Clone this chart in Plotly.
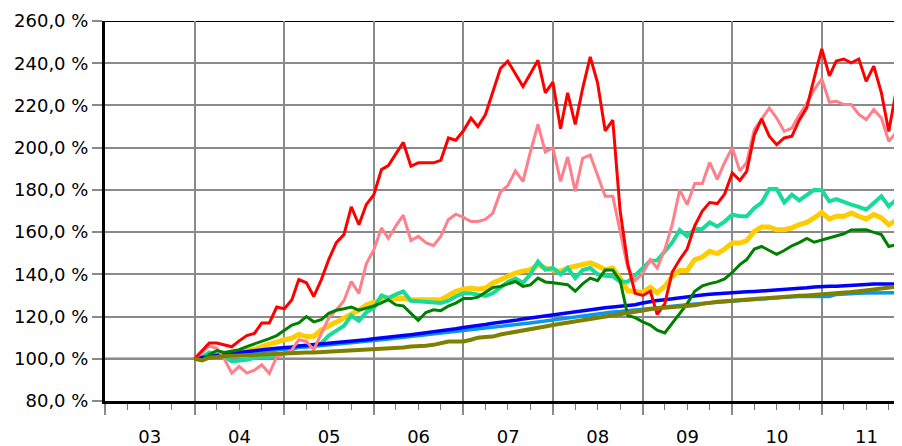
import plotly.graph_objects as go
import pandas as pd

# Monthly index values (%), Jan 2004 .. Dec 2011
months = pd.date_range("2004-01-01", periods=96, freq="MS")

red = [100, 104, 107.5, 107.5, 106.5, 105.7, 108.5, 111, 112, 117, 117, 124.5,
       123.7, 128, 137.5, 136, 129.5, 137.5, 147, 155, 158.8, 172, 163.5, 173,
       177.7, 189.6, 191.5, 197, 202.5, 191.2, 192.8, 192.8, 192.8, 194, 204.6, 203.5,
       208, 214, 210, 215.7, 227, 237.5, 241, 235, 229, 235, 241.4, 226,
       231, 209, 226, 211, 228, 243, 230.7, 208, 213, 170, 145, 131,
       130, 132, 121, 126, 141, 147, 152, 163, 170, 174, 173.5, 178,
       188, 184.5, 188.8, 206, 213.6, 205.4, 201.4, 204.6, 205.4, 213, 219, 233,
       246.8, 234, 241, 242, 240.2, 242, 231.4, 238.6, 226, 207.7, 227.5, 218]

pink = [100, 103, 106, 105, 100, 93.2, 96.4, 93.2, 94.6, 97.2, 93, 101,
        102, 104.3, 109, 108.2, 104.3, 112, 119.3, 123, 127.5, 136.6, 131, 145,
        151.7, 162, 157, 163, 168, 156, 158, 155, 153.6, 158, 166, 168.5,
        167, 165, 165, 166, 169, 179, 182, 189, 184, 198, 211, 198,
        200, 184, 195.6, 179.3, 195, 196.5, 186.4, 177, 177, 161, 143, 137,
        140.5, 147, 143, 151.7, 163.5, 180, 173, 183, 183, 193, 185, 193,
        200, 189, 193, 208.5, 213.3, 218.8, 214, 207.7, 209.3, 215.5, 221, 227.5,
        232.6, 221.5, 222, 220.4, 220.4, 215.7, 213.3, 218, 214, 203, 207.3, 211]

turquoise = [100, 101, 103, 102, 101, 98.7, 99, 99.5, 100.5, 101, 101, 101.5,
             102.5, 104.5, 105.8, 105.8, 106.5, 107.4, 111, 113.5, 115.6, 120.5, 118, 122,
             124, 130, 128.8, 130.5, 131.9, 127.5, 127.3, 127, 126.8, 126.4, 127.5, 129.5,
             131, 131, 130.3, 129.8, 131, 133.5, 136.4, 138, 136, 140, 146, 142.2,
             143, 140, 143, 138.2, 142, 143, 140, 139.3, 139, 136.5, 136.5, 139.5,
             143.3, 146.5, 146.6, 151, 155, 161, 158, 161.5, 161.5, 164.6, 162.7, 165,
             168.3, 167.5, 167.5, 171.4, 174, 180.4, 180.4, 174, 177.7, 175, 177.7, 180,
             179.8, 174.6, 175.6, 174.1, 173, 172, 170.6, 173.8, 177, 172.2, 175.4, 177]

yellow = [100, 100.5, 101.5, 102, 102, 102.5, 103, 103.5, 104.5, 105.8, 107, 108.2,
          109, 109.8, 111.5, 110.5, 110.6, 113.7, 115.5, 117.5, 119.3, 121.5, 123, 125.5,
          127, 128, 128.5, 128.8, 128.5, 128, 128, 128, 128, 128, 130, 131.9,
          133, 133.5, 133, 133.5, 135.9, 137.5, 139.5, 140.6, 141.5, 142.2, 144.6, 143,
          142, 141.4, 143, 144, 144.6, 145.4, 144, 142.2, 143, 138.2, 132.2, 131.9,
          131.5, 133.8, 131.3, 134.3, 139, 141.8, 141.8, 147, 148.2, 150.9, 149.8, 152,
          154.8, 154.8, 156, 160.3, 162.4, 162.4, 161.1, 161.1, 162, 163.5, 164.6, 166.7,
          169.3, 166.2, 167.5, 167.5, 169.1, 167.5, 166.2, 168.3, 166.7, 163.5, 165.6, 164.3]

green = [100, 99.2, 102, 103.9, 103, 103.5, 104.3, 105.8, 107, 108, 109.5, 111,
         113.5, 116, 117, 120, 117.5, 118.5, 121.5, 123, 123.7, 124.5, 123, 124,
         125, 126.5, 128, 125.5, 125, 121.5, 118.2, 121.9, 123.2, 122.8, 125, 126.4,
         128.5, 128.5, 129.2, 131.5, 133.8, 134.3, 135.5, 136.6, 134.3, 135, 138.2, 136.4,
         136, 135.6, 135.1, 132, 135.5, 138.2, 137, 142, 142, 137, 120.5, 119.5,
         117.5, 116, 113.5, 112.2, 116.9, 121.5, 126, 132, 134.5, 135.6, 136.4, 137.8,
         140.9, 144.6, 147, 152, 153.2, 151.3, 149.5, 151.3, 153.5, 155, 157, 155.2,
         156.3, 157.2, 158.3, 159.2, 161, 161.1, 161.1, 159.9, 158.8, 153.2, 154, 150]

blue = [100, 100.6, 101.2, 101.6, 102, 102.6, 103, 103.5, 103.8, 104.2, 104.6, 105,
        105.2, 105.6, 106, 106.3, 106.6, 107, 107.4, 107.8, 108.1, 108.4, 108.6, 109,
        109.5, 109.8, 110.2, 110.6, 111, 111.4, 111.8, 112.2, 112.8, 113.2, 113.6, 114.2,
        114.8, 115.2, 115.6, 116.2, 116.8, 117.2, 117.6, 118.2, 118.8, 119.3, 119.8, 120.3,
        120.8, 121.3, 121.7, 122.3, 122.8, 123.4, 124, 124.2, 124.5, 124.8, 125.3, 125.6,
        126.4, 127.2, 127.6, 128, 128.5, 129, 129.5, 129.8, 130.2, 130.6, 130.9, 131.1,
        131.3, 131.5, 131.7, 131.9, 132.1, 132.3, 132.5, 132.8, 133, 133.3, 133.6, 134,
        134.3, 134.4, 134.4, 134.5, 134.6, 134.8, 135.2, 135.4, 135.4, 135.4, 135.5, 135.5]

lightblue = [100, 100.4, 100.9, 101.3, 101.7, 102.1, 102.5, 102.9, 103.2, 103.6, 104, 104.3,
             104.6, 105, 105.3, 105.6, 105.9, 106.3, 106.7, 107, 107.3, 107.6, 107.9, 108.3,
             108.7, 109, 109.4, 109.8, 110.1, 110.4, 110.8, 111.1, 111.5, 111.9, 112.3, 112.7,
             113.1, 113.5, 113.9, 114.3, 114.8, 115.2, 115.6, 116.1, 116.6, 117, 117.5, 118,
             118.5, 119, 119.5, 120, 120.5, 121, 121.5, 121.9, 122.2, 122.4, 122.8, 123.2,
             123.6, 124, 124.2, 124.5, 124.8, 125.2, 125.6, 125.9, 126.2, 126.5, 126.8, 127.1,
             127.3, 127.6, 127.9, 128.2, 128.5, 128.8, 129, 129.2, 129.4, 129.5, 129.5, 129.5,
             129.5, 129.5, 130.5, 130.8, 130.9, 131, 131.1, 131.2, 131.3, 131.3, 131.4, 131.4]

olive = [100, 99.2, 100.5, 101, 101.2, 101.4, 101.4, 101.5, 101.8, 102, 102.2, 102.3,
         102.5, 103, 103, 103, 103, 103.2, 103.3, 103.5, 103.5, 103.6, 103.8, 104,
         104.3, 104.5, 105, 105, 105.3, 105.8, 105.8, 106.2, 106.6, 107.5, 108.2, 108.2,
         108.2, 109, 110, 110.3, 110.5, 111.5, 112.2, 112.8, 113.4, 114, 114.7, 115.3,
         116, 116.6, 117.2, 117.8, 118.4, 119, 119.6, 120.4, 121, 121.4, 121.8, 122.3,
         122.8, 123.6, 124, 124.2, 124.4, 124.6, 124.8, 125.4, 126, 126.6, 127, 127.3,
         127.6, 127.9, 128.1, 128.3, 128.5, 128.8, 129.1, 129.4, 129.6, 129.8, 130, 130.2,
         130.4, 130.7, 131, 131.3, 131.6, 132, 132.4, 132.7, 133, 133.3, 133.8, 134.5]

y_ticks = [80, 100, 120, 140, 160, 180, 200, 220, 240, 260]
y_labels = ["80,0 %", "100,0 %", "120,0 %", "140,0 %", "160,0 %", "180,0 %",
            "200,0 %", "220,0 %", "240,0 %", "260,0 %"]

series = [
    ("yellow", yellow, "#FFCC00", 5),
    ("turquoise", turquoise, "#19DB97", 4),
    ("lightblue", lightblue, "#0A97E8", 3.5),
    ("blue", blue, "#0000FF", 3.5),
    ("pink", pink, "#FF7F8A", 3),
    ("green", green, "#008000", 3),
    ("red", red, "#FF0000", 3),
    ("olive", olive, "#808000", 4),
]

fig = go.Figure()
for name, vals, col, w in series:
    fig.add_trace(go.Scatter(x=months, y=vals, mode="lines", name=name,
                             line=dict(color=col, width=w), showlegend=False))

fig.add_hline(y=100, line=dict(color="black", width=2), layer="below")
fig.add_hline(y=260, line=dict(color="black", width=2), layer="below")

font = dict(family="DejaVu Sans, Liberation Sans, sans-serif", size=18, color="black")

# The page body has an 8 px margin, so the figure is 8 px smaller than the window
fig.update_layout(
    width=894, height=438,
    margin=dict(l=97, r=0, t=13, b=45),
    paper_bgcolor="white", plot_bgcolor="white",
    font=font,
    xaxis=dict(
        type="date", automargin=False,
        range=["2003-01-01", "2011-11-24"],
        dtick="M12", tick0="2003-01-01",
        tickformat="%y", ticklabelmode="period",
        showgrid=True, gridcolor="#8a8a8a", gridwidth=1.5,
        ticks="outside", ticklen=11, tickcolor="#8a8a8a", tickwidth=1.5,
        ticklabelstandoff=6,
        showline=True, linecolor="black", linewidth=3,
        minor=dict(dtick="M3", ticks="outside", ticklen=6, tickcolor="#777", tickwidth=1.2,
                   showgrid=False),
        tickfont=font, zeroline=False,
    ),
    yaxis=dict(
        range=[80, 260], automargin=False,
        tickvals=y_ticks, ticktext=y_labels,
        showgrid=True, gridcolor="#8a8a8a", gridwidth=1.5,
        ticks="outside", ticklen=10, tickcolor="#8a8a8a", tickwidth=1.5,
        showline=True, linecolor="black", linewidth=3,
        tickfont=font, zeroline=False,
    ),
)

fig.write_html("out.html")
